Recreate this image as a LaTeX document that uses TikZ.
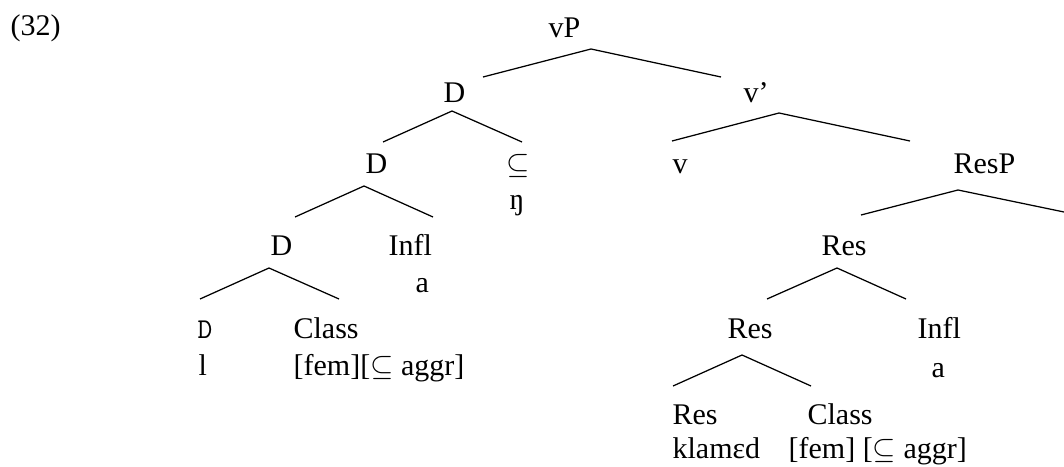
\documentclass[tikz,border=0pt]{standalone}
\usepackage{fontspec}
\setmainfont{Liberation Serif}
\usetikzlibrary{positioning}
\tikzset{
  lab/.style={anchor=base west, inner sep=0pt},
}

\begin{document}
\begin{tikzpicture}[x=0.4pt, y=-0.4pt, line width=0.5pt,
    font=\fontsize{12}{14}\selectfont]
  \useasboundingbox (0,0) rectangle (1064,466);
  \node[lab] (ex) at (10,36) {(32)};
  % upper part
  \node[lab] (vP) at (548,38) {vP};
  \node[lab] (D1) at (443,103) {D};
  \node[lab] (vbar) at (743,103) {v'};
  \node[lab] (D2) at (365,173) {D};
  \node[lab] (sub) at (506,173) {$\subseteq$};
  \node[lab] (eng) at (509,209) {ŋ};
  \node[lab] (v) at (672,173) {v};
  \node[lab] (ResP) at (953,173) {ResP};
  % left subtree
  \node[lab] (D3) at (270,255) {D};
  \node[lab] (infl1) at (388,255) {Infl};
  \node[lab] (a1) at (415,292) {a};
  \node[lab] (dlow) at (197,338) {\ttfamily\fontsize{11.5}{13}\selectfont D};
  \node[lab] (l) at (198,375) {l};
  \node[lab] (class1) at (293,338) {Class};
  \node[lab] (feat1) at (293,375) {[fem][$\subseteq$ aggr]};
  % right subtree
  \node[lab] (res1) at (821,255) {Res};
  \node[lab] (res2) at (727,338) {Res};
  \node[lab] (infl2) at (917,338) {Infl};
  \node[lab] (a2) at (931,377) {a};
  \node[lab] (res3) at (672,424) {Res};
  \node[lab] (klamed) at (672,458) {klamɛd};
  \node[lab] (class2) at (807,424) {Class};
  \node[lab] (feat2) at (788,458) {[fem] [$\subseteq$ aggr]};
  % branches
  \foreach \n/\ax/\ay/\lx/\ly/\rx/\ry in {vP/591/49/483/77/721/77,
      D1/452/111/383/142/522/142, vbar/779/113/672/141/910/141,
      D2/364/186/295/217/433/217, ResP/958/190/861/215/1064/212,
      D3/269/268/200/299/339/299, res1/837/268/767/299/906/299,
      res2/742/355/673/386/811/386}
  {
    \coordinate (\n-top) at (\ax,\ay);
    \coordinate (\n-l) at (\lx,\ly);
    \coordinate (\n-r) at (\rx,\ry);
    \draw (\n-l) -- (\n-top) -- (\n-r);
  }
\end{tikzpicture}
\end{document}
